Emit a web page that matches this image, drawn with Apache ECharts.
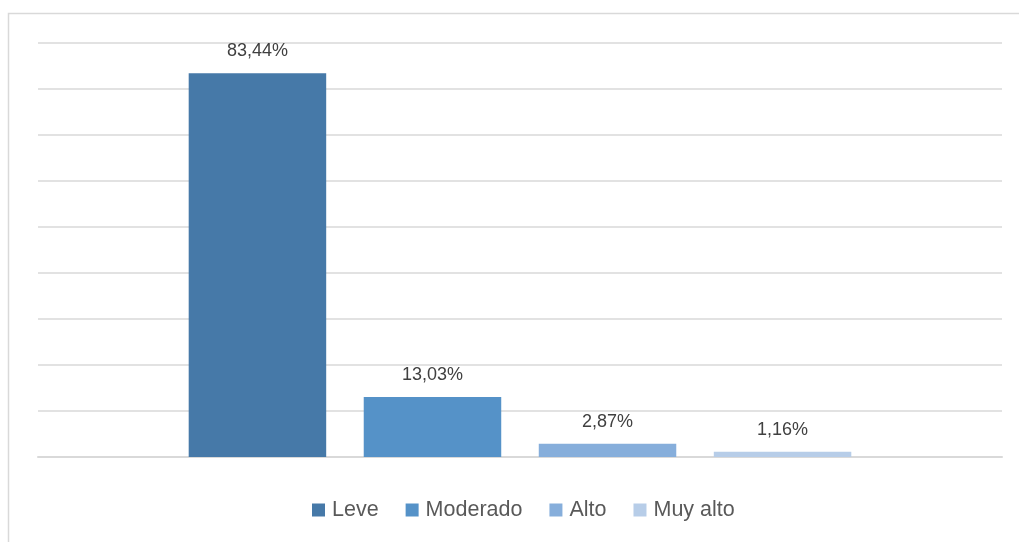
<!DOCTYPE html>
<html>
<head>
<meta charset="utf-8">
<script src="https://cdn.jsdelivr.net/npm/echarts@6/dist/echarts.min.js"></script>
<style>
html,body{margin:0;padding:0;background:#fff;}
#c{width:1019px;height:542px;}
</style>
</head>
<body>
<div id="c"></div>
<script>
const seriesNames = ['Leve', 'Moderado', 'Alto', 'Muy alto'];
const seriesValues = [83.44, 13.03, 2.87, 1.16];
const seriesColors = ['#4679a8', '#5592c8', '#86aedb', '#b7cde8'];
const categories = [''];

const chart = echarts.init(document.getElementById('c'), null, {renderer: 'canvas'});

const series = seriesNames.map((name, i) => ({
  name: name,
  type: 'bar',
  data: [seriesValues[i]],
  barWidth: 137.5,
  barGap: '27.3%',
  itemStyle: {color: seriesColors[i]},
  label: {
    show: true,
    position: 'top',
    distance: 13,
    color: '#404040',
    fontSize: 18,
    fontFamily: 'Liberation Sans, Arial, sans-serif',
    formatter: p => p.value.toFixed(2).replace('.', ',') + '%'
  }
}));

chart.setOption({
  animation: false,
  backgroundColor: '#fff',
  graphic: [{
    type: 'rect',
    shape: {x: 8.5, y: 13.5, width: 1030, height: 560},
    style: {fill: 'none', stroke: '#d9d9d9', lineWidth: 1.5},
    silent: true,
    z: -10
  }],
  grid: {left: 38, right: 17, top: 43, bottom: 85},
  legend: {
    data: seriesNames,
    bottom: 16,
    left: 307,
    itemWidth: 13,
    itemHeight: 13,
    itemGap: 27,
    icon: 'rect',
    textStyle: {color: '#595959', fontSize: 21.5, fontFamily: 'Liberation Sans, Arial, sans-serif', padding: [0, 0, 0, 2]}
  },
  xAxis: {
    type: 'category',
    data: categories,
    axisLine: {show: true, lineStyle: {color: '#d9d9d9', width: 2}},
    axisTick: {show: false},
    axisLabel: {show: false}
  },
  yAxis: {
    type: 'value',
    min: 0,
    max: 90,
    interval: 10,
    axisLabel: {show: false},
    axisLine: {show: false},
    axisTick: {show: false},
    splitLine: {lineStyle: {color: '#d9d9d9', width: 1.5}}
  },
  series: series
});
</script>
</body>
</html>
